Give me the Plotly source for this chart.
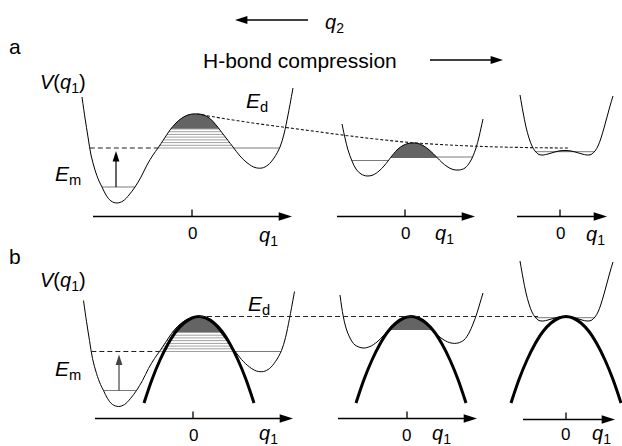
import numpy as np
import plotly.graph_objects as go

W, H = 622, 446

# ---------------- potential profiles (canvas pixel units, y grows downward) -------------
# row a, weak H-bond: asymmetric double well
well1_x = [82, 85, 88, 91, 95, 99, 102, 106, 111, 117, 123, 129, 135, 141, 147, 153, 158,
           164, 170, 176, 182, 188, 193, 197, 202, 208, 213, 218, 223, 228, 233, 240, 248,
           255, 262, 268, 274, 280, 284, 288, 293]
well1_y = [97, 118, 137, 155, 170, 181, 187, 195, 201, 203, 201, 195, 187, 177, 165, 155, 148,
           139, 130, 123, 118, 115, 114, 114, 114.5, 117, 121.5, 127.5, 134, 140.5, 147, 156,
           163.5, 167.5, 168, 165, 158, 147, 134, 115, 88]

# row a, middle: lower barrier
well2_x = [342, 345, 348, 352, 356, 361, 367, 373, 379, 384, 388, 393, 398, 403, 408, 413, 418,
           423, 428, 433, 437, 442, 447, 453, 459, 465, 470, 473, 476, 479, 481, 483]
well2_y = [124, 138, 150, 161, 169, 174, 176, 175, 171, 166, 161, 154.5, 149, 145.5, 143.5, 143,
           143.5, 145.5, 149, 153.5, 157.5, 162.5, 166.5, 169.5, 170, 168, 162, 156, 148, 137,
           128, 119]

# row a, right: nearly flat-bottomed well
well3_x = [520, 523, 526, 529, 532, 535, 539, 543, 548, 553, 559, 565, 571, 577, 582, 587, 591,
           595, 598, 601, 604, 607, 610, 613]
well3_y = [95, 112, 127, 138, 146, 151, 154.5, 155, 154, 152.5, 151, 150.5, 151, 152.5, 154, 155,
           154.5, 151, 146, 138, 128, 117, 106, 96]

# row b, middle: its own double well
well2b_x = [340, 343, 346, 350, 355, 363, 370, 377, 384, 390, 396, 402, 408, 414, 420, 426, 432,
            438, 444, 451, 458, 464, 469, 473, 477, 480, 483]
well2b_y = [295, 315, 328, 338, 345, 348, 346.5, 342, 335, 328.5, 322.5, 318.5, 316.5, 316.5, 319,
            323.5, 329.5, 335.5, 340, 343, 343, 340, 333, 324, 313, 303, 293]

# row b re-uses the outer profiles, drawn lower on the page
row_b_shift_1 = (1.5, 203.5)
row_b_shift_3 = (0.0, 166.0)

# inverted-barrier (thick) profile, relative to its apex
barrier_dx = [-55, -47, -39, -31, -23, -15, -7, 0, 7, 15, 23, 31, 39, 47, 55]
barrier_dy = [86.5, 63, 43.5, 27.5, 15, 6.5, 1.5, 0, 1.5, 6.5, 15, 27.5, 43.5, 63, 86.5]
barrier_apex_x = [199, 411, 566]
barrier_apex_y = 316.5

# energy levels
hatch_levels_a1 = [129, 131.7, 134.4, 137.1, 139.9, 142.6, 145.3, 148]
cap_level_a1 = 129
em_level_a1 = 148
ground_level_a1 = 187
cap_level_a2 = 158
left_level_a2 = 160.5
right_level_a2 = 157
level_a3 = 151.7
cap_level_b2 = 330

# decay of the barrier top along q2 (row a)
ed_curve_x = [197, 230, 260, 290, 320, 350, 380, 410, 440, 470, 500, 535, 568]
ed_curve_y = [114, 119.5, 124, 128, 132, 136, 139.5, 142.5, 144.5, 146, 147, 147.7, 148]
ed_end_b = 538

# q1 axes: (x_start, x_end, y, x_zero)
axes_a = [(93, 292, 216.5, 192), (337, 475, 216.5, 405), (517, 607, 216.5, 560)]
axes_b = [(95, 293, 418.5, 193), (338, 477, 418.5, 407), (523, 615, 419.5, 566)]

BLACK = "#000000"
LEVEL = "#7a7a7a"
HATCH = "#a0a0a0"
CAP = "#646464"
FONT = "Liberation Sans"


def shifted(xs, ys, d):
    return [x + d[0] for x in xs], [y + d[1] for y in ys]


def crossings(xs, ys, level, lo, hi):
    out = []
    for i in range(len(xs) - 1):
        y0, y1 = ys[i] - level, ys[i + 1] - level
        if y0 == 0:
            x = xs[i]
        elif y0 * y1 < 0:
            t = y0 / (y0 - y1)
            x = xs[i] + t * (xs[i + 1] - xs[i])
        else:
            continue
        if lo <= x <= hi:
            out.append(x)
    return out


def span(xs, ys, level, lo, hi):
    c = crossings(xs, ys, level, lo, hi)
    return min(c), max(c)


def cap_polygon(xs, ys, level, lo, hi):
    xl, xr = span(xs, ys, level, lo, hi)
    px = [xl] + [x for x, y in zip(xs, ys) if xl < x < xr and y < level] + [xr]
    py = [level] + [y for x, y in zip(xs, ys) if xl < x < xr and y < level] + [level]
    return px, py


def segs(pairs):
    xs, ys = [], []
    for (x0, y0, x1, y1) in pairs:
        xs += [x0, x1, None]
        ys += [y0, y1, None]
    return xs, ys


fig = go.Figure()


def line(xs, ys, color=BLACK, width=1.0, dash="solid", shape="linear"):
    fig.add_trace(go.Scatter(x=xs, y=ys, mode="lines", hoverinfo="skip",
                             line=dict(color=color, width=width, dash=dash, shape=shape)))


def cap(px, py):
    fig.add_trace(go.Scatter(x=px, y=py, mode="lines", fill="toself", fillcolor=CAP,
                             hoverinfo="skip", line=dict(color=CAP, width=0.5)))


def arrow(x0, y0, x1, y1, color=BLACK, width=1.5, head=14):
    # straight shaft, then a filled head oriented along the segment
    L = ((x1 - x0) ** 2 + (y1 - y0) ** 2) ** 0.5
    ux, uy = (x1 - x0) / L, (y1 - y0) / L
    back = head * 0.45
    line([x0, x1 - ux * back], [y0, y1 - uy * back], color=color, width=width)
    fig.add_trace(go.Scatter(
        x=[x0, x1], y=[y0, y1], mode="markers", hoverinfo="skip",
        marker=dict(symbol=["circle", "arrow"], size=[0, head], color=color,
                    opacity=1, angleref="previous", line=dict(width=0))))


w1b_x, w1b_y = shifted(well1_x, well1_y, row_b_shift_1)
w3b_x, w3b_y = shifted(well3_x, well3_y, row_b_shift_3)
dy1 = row_b_shift_1[1]

# ---------------- dark caps above the highest level ----------------
cap(*cap_polygon(well1_x, well1_y, cap_level_a1, 150, 240))
cap(*cap_polygon(w1b_x, w1b_y, cap_level_a1 + dy1, 150, 240))
cap(*cap_polygon(well2_x, well2_y, cap_level_a2, 385, 440))
cap(*cap_polygon(well3_x, well3_y, level_a3, 550, 580))
bx2 = [barrier_apex_x[1] + d for d in barrier_dx]
by2 = [barrier_apex_y + d for d in barrier_dy]
cap(*cap_polygon(bx2, by2, cap_level_b2, 370, 450))

# ---------------- vibrational levels ----------------
hatch = []
for lv in hatch_levels_a1:
    xl, xr = span(well1_x, well1_y, lv, 150, 240)
    hatch.append((xl, lv, xr, lv))
    xl, xr = span(w1b_x, w1b_y, lv + dy1, 150, 240)
    hatch.append((xl, lv + dy1, xr, lv + dy1))
line(*segs(hatch), color=HATCH, width=1)

levels = []
# E_m level continued into the right well
for xs, ys, lv in [(well1_x, well1_y, em_level_a1), (w1b_x, w1b_y, em_level_a1 + dy1)]:
    xr0 = span(xs, ys, lv, 150, 240)[1]
    xr1 = span(xs, ys, lv, 260, 300)[1]
    levels.append((xr0, lv, xr1, lv))
# ground level in the deep well
for xs, ys, lv in [(well1_x, well1_y, ground_level_a1), (w1b_x, w1b_y, ground_level_a1 + dy1)]:
    xl, xr = span(xs, ys, lv, 95, 145)
    levels.append((xl, lv, xr, lv))
xl, xr = span(well2_x, well2_y, left_level_a2, 340, 395)
levels.append((xl, left_level_a2, xr, left_level_a2))
xl, xr = span(well2_x, well2_y, right_level_a2, 430, 485)
levels.append((xl, right_level_a2, xr, right_level_a2))
for xs, ys, lv in [(well3_x, well3_y, level_a3), (w3b_x, w3b_y, level_a3 + row_b_shift_3[1])]:
    xl, xr = span(xs, ys, lv, 525, 605)
    levels.append((xl, lv, xr, lv))
line(*segs(levels), color=LEVEL, width=1)

# ---------------- potential curves ----------------
for xs, ys in [(well1_x, well1_y), (well2_x, well2_y), (well3_x, well3_y),
               (w1b_x, w1b_y), (well2b_x, well2b_y), (w3b_x, w3b_y)]:
    line(xs, ys, width=1, shape="spline")

for cx in barrier_apex_x:
    line([cx + d for d in barrier_dx], [barrier_apex_y + d for d in barrier_dy],
         width=3, shape="spline")

# ---------------- dashed guide lines ----------------
for xs, ys, lv in [(well1_x, well1_y, em_level_a1), (w1b_x, w1b_y, em_level_a1 + dy1)]:
    xl = span(xs, ys, lv, 80, 100)[0]
    xr = span(xs, ys, lv, 150, 240)[0]
    line([xl, xr], [lv, lv], color="#222222", width=1, dash="5px,3px")
line(ed_curve_x, ed_curve_y, color="#1a1a1a", width=1.1, dash="3px,2px", shape="spline")
line([barrier_apex_x[0], ed_end_b], [barrier_apex_y, barrier_apex_y],
     color="#222222", width=1, dash="5px,3px")

# ---------------- q1 axes with zero ticks ----------------
ticks = []
for (x0, x1, y, xz) in axes_a + axes_b:
    ticks.append((xz, y - 7, xz, y))
line(*segs(ticks), width=1.3)
for (x0, x1, y, xz) in axes_a + axes_b:
    arrow(x0, y, x1, y)

# excitation arrows
arrow(116, ground_level_a1, 116, em_level_a1 + 3, width=1.2, head=11)
arrow(119, ground_level_a1 + dy1, 119, em_level_a1 + dy1 + 3, color="#444444",
      width=1.2, head=11)

# q2 and compression arrows
arrow(308, 20, 235, 20, width=1.3, head=13)
arrow(430, 60, 503, 60, width=1.3, head=13)

ann = []


def text(x, y, s, size=20, xanchor="center"):
    ann.append(dict(x=x, y=y, xref="x", yref="y", text=s, showarrow=False,
                    xanchor=xanchor, yanchor="middle",
                    font=dict(family=FONT, size=size, color=BLACK)))


q1 = "<i>q</i><sub>1</sub>"
for (x, y) in [(192, 233), (405, 233), (560, 233), (193, 435), (406, 435), (565, 434)]:
    text(x, y, "0", size=17)
for (x, y) in [(268, 236), (444, 234), (595, 235), (268, 434), (441, 434), (601, 434)]:
    text(x, y, q1, size=20)

text(15, 46, "a", size=21)
text(15, 256, "b", size=21)
vq = "<i>V</i>(<i>q</i><sub>1</sub>)"
text(63, 83, vq, size=20)
text(63, 281, vq, size=20)
ed = "<i>E</i><sub>d</sub>"
em = "<i>E</i><sub>m</sub>"
text(257, 102, ed, size=21)
text(259, 305, ed, size=21)
text(68, 175, em, size=21)
text(68, 370, em, size=21)
text(334, 23, "<i>q</i><sub>2</sub>", size=20)
text(300, 60, "H-bond compression", size=21)

fig.update_layout(
    width=W, height=H,
    margin=dict(l=0, r=0, t=0, b=0),
    paper_bgcolor="white", plot_bgcolor="white",
    showlegend=False,
    xaxis=dict(range=[0, W], visible=False, fixedrange=True),
    yaxis=dict(range=[H, 0], visible=False, fixedrange=True),
    annotations=ann,
)

fig.write_html("out.html")
